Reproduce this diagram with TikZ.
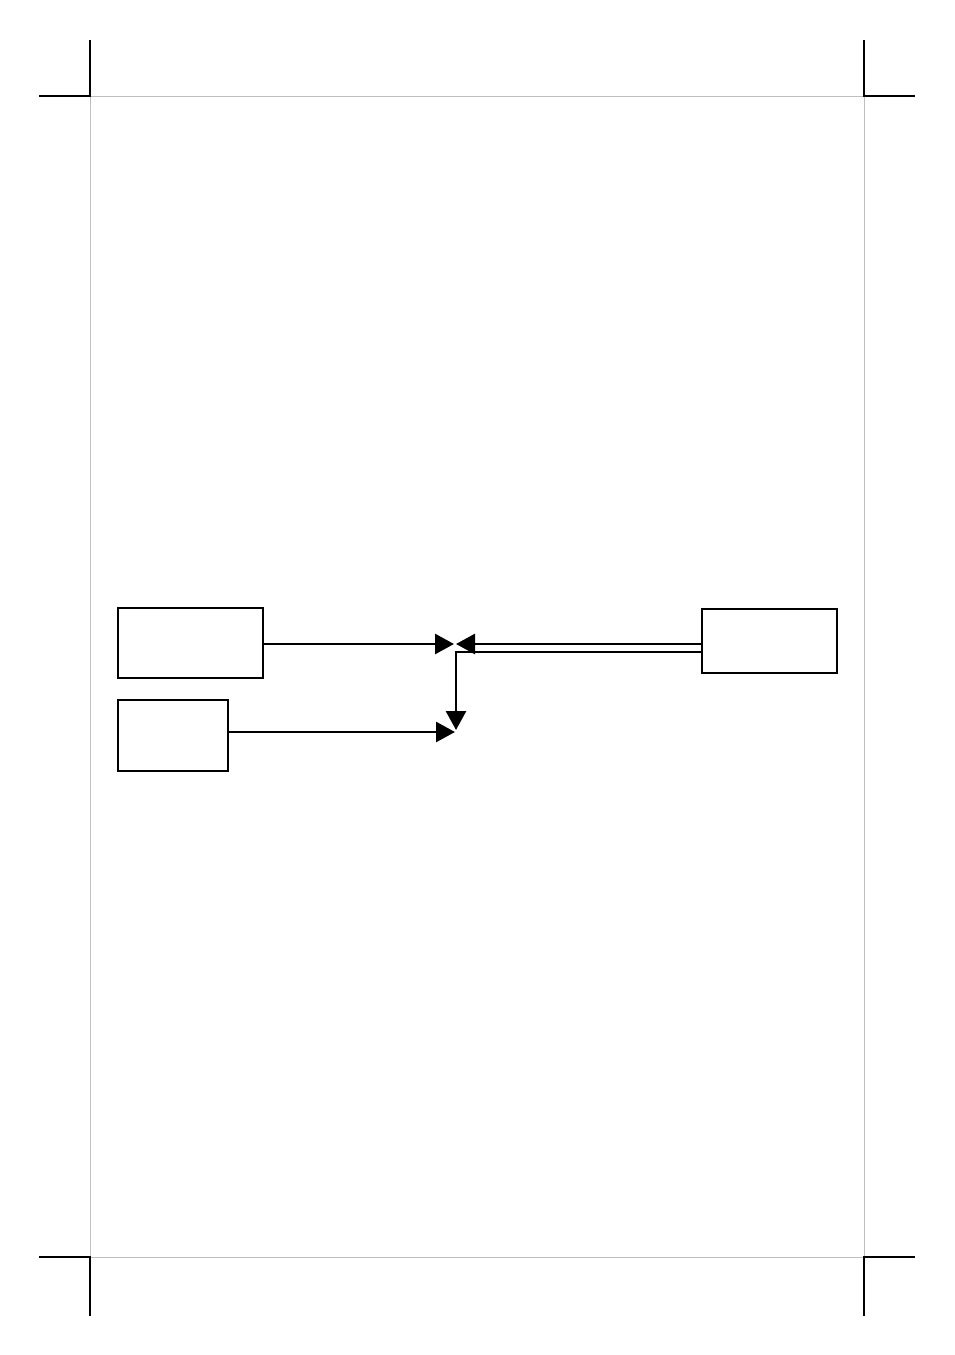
\documentclass[tikz,border=0pt]{standalone}
\usetikzlibrary{arrows.meta}

\begin{document}
\begin{tikzpicture}[x=1pt,y=-1pt,
  blk/.style={draw,line width=1.6pt,inner sep=0pt,outer sep=0pt,anchor=north west},
  link/.style={line width=2.8pt,-{Triangle[length=19pt,width=20pt]}},
  crop/.style={line width=1.4pt}]
  \useasboundingbox (0,0) rectangle (954,1355);

  % page frame and crop marks
  \draw[color=black!25,line width=1pt] (90,96) rectangle (864,1257);
  \draw[crop] (90,40) -- (90,96) -- (39,96);
  \draw[crop] (864,40) -- (864,96) -- (915,96);
  \draw[crop] (90,1316) -- (90,1257) -- (39,1257);
  \draw[crop] (864,1316) -- (864,1257) -- (915,1257);

  \node[blk,minimum width=145pt,minimum height=70pt] (boxa) at (118,608) {};
  \node[blk,minimum width=110pt,minimum height=71pt] (boxb) at (118,700) {};
  \node[blk,minimum width=135pt,minimum height=64pt] (boxc) at (702,609) {};

  \coordinate (tipa) at (454,644);
  \coordinate (tipc) at (456,644);
  \coordinate (bend) at (456,652);
  \coordinate (tipd) at (456,730);
  \coordinate (tipb) at (455,732);

  \draw[link] (boxa.east |- tipa) -- (tipa);
  \draw[link] (boxc.west |- tipc) -- (tipc);
  \draw[link] (boxc.west |- bend) -- (bend) -- (tipd);
  \draw[link] (boxb.east |- tipb) -- (tipb);
\end{tikzpicture}
\end{document}
